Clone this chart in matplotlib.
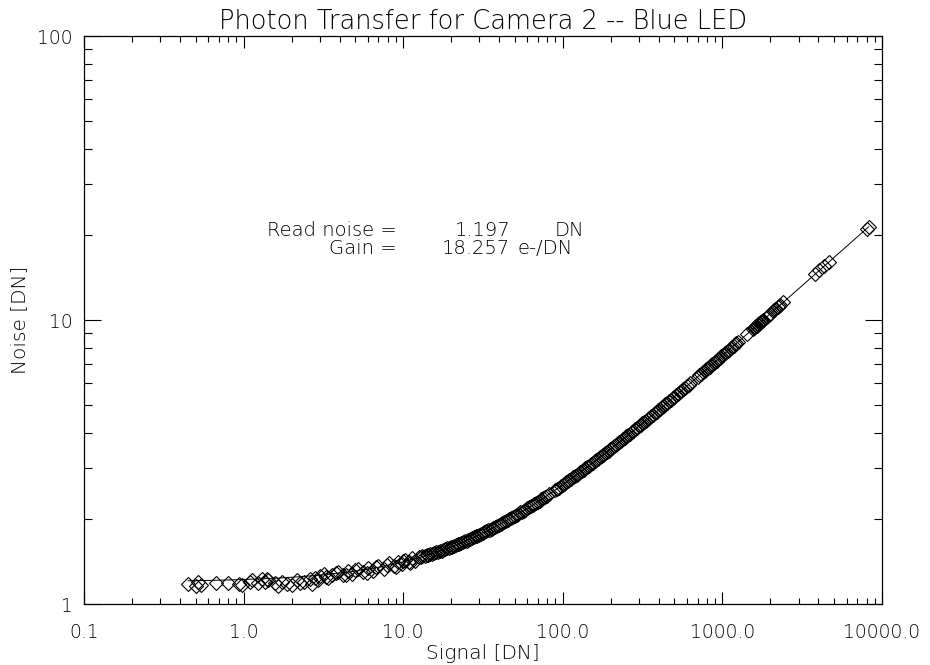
import numpy as np
import matplotlib
matplotlib.use("Agg")
import matplotlib.pyplot as plt
from matplotlib.ticker import FixedLocator, FixedFormatter, LogLocator, NullFormatter

# Thin strokes for all text
plt.rcParams["font.family"] = ["DejaVu Sans"]
plt.rcParams["font.weight"] = "light"
plt.rcParams["axes.titleweight"] = "light"
plt.rcParams["axes.labelweight"] = "light"

# Fit results printed on the plot
READ_NOISE = 1.197   # DN
GAIN = 18.257        # e-/DN

# Measured mean signal [DN] and noise [DN], first frame pair of each exposure
signal = [
    0.45, 0.52, 0.54, 0.67, 0.80, 0.93, 1.09, 1.13, 1.23, 1.30, 1.36,
    1.43, 1.57, 1.73, 1.86, 2.00, 2.15, 2.25, 2.61, 2.80, 2.93,
    3.0, 3.2, 3.4, 3.6, 3.9, 4.2, 4.5, 4.8, 5.2, 5.6, 6.0, 6.5, 7.0,
    7.6, 8.2, 8.8, 9.3, 9.8, 10.3, 10.8, 11.3, 11.8,
    12.5, 13.2, 14.0, 14.8, 15.6, 16.5, 17.4, 18.3, 19.3, 20.3, 21.4,
    22.5, 23.7, 25.0, 26.3, 27.7, 29.2, 30.7, 32.3, 34.0, 35.8, 37.7,
    39.7, 41.8, 44.0, 46.3, 48.7, 51.3, 54.0, 56.8, 59.8, 63.0, 66.3,
    69.8, 73.4, 77.3, 81.4, 90.0, 94.7, 99.7,
    105, 110, 116, 122, 128, 135, 142, 150, 158, 166, 175, 184, 194,
    204, 215, 226, 238, 250, 263, 277, 292, 307, 323, 340, 358, 377,
    397, 418, 440, 463, 487, 513, 540, 568, 598, 630, 700, 736, 775,
    815, 850, 880, 920, 960,
    1010, 1060, 1100, 1150, 1200, 1250, 1420, 1560, 1600, 1640, 1680,
    1720, 1760, 1800, 1900, 2000, 2075, 2150, 2230, 2310, 2400,
    3800, 4050, 4350, 4650, 8000, 8250,
]

noise = [
    1.18, 1.20, 1.17, 1.19, 1.19, 1.18, 1.20, 1.21, 1.19, 1.22, 1.20,
    1.21, 1.19, 1.20, 1.18, 1.17, 1.21, 1.19, 1.22, 1.23, 1.21,
    1.25, 1.28, 1.23, 1.27, 1.30, 1.26, 1.31, 1.28, 1.33, 1.30, 1.34,
    1.31, 1.36, 1.33, 1.39, 1.36, 1.41, 1.38, 1.43, 1.40, 1.45, 1.42,
    1.46, 1.47, 1.49, 1.50, 1.51, 1.53, 1.54, 1.56, 1.58, 1.59, 1.61,
    1.63, 1.65, 1.67, 1.70, 1.72, 1.74, 1.76, 1.79, 1.82, 1.84, 1.87,
    1.90, 1.93, 1.96, 1.99, 2.02, 2.06, 2.10, 2.13, 2.17, 2.21, 2.25,
    2.29, 2.34, 2.38, 2.43, 2.52, 2.57, 2.63,
    2.68, 2.73, 2.79, 2.85, 2.91, 2.97, 3.03, 3.11, 3.18, 3.24, 3.32,
    3.39, 3.47, 3.55, 3.63, 3.72, 3.80, 3.89, 3.98, 4.07, 4.17, 4.27,
    4.37, 4.48, 4.59, 4.70, 4.81, 4.93, 5.05, 5.18, 5.30, 5.43, 5.57,
    5.70, 5.85, 5.99, 6.31, 6.46, 6.62, 6.79, 6.93, 7.04, 7.20, 7.35,
    7.53, 7.71, 7.85, 8.03, 8.20, 8.36, 8.90, 9.32, 9.44, 9.55, 9.67,
    9.78, 9.89, 10.00, 10.27, 10.53, 10.73, 10.92, 11.12, 11.31, 11.53,
    14.48, 14.94, 15.48, 16.00, 20.97, 21.29,
]

# Second frame pair of each exposure
signal_b = [
    0.50, 0.98, 1.40, 1.65, 2.40, 2.70, 3.3, 3.8, 4.4, 5.0, 5.9, 6.8,
    7.9, 9.0, 10.0, 11.0,
    12.85, 13.6, 14.4, 15.2, 16.05, 16.95, 17.85, 18.8, 19.8, 20.85,
    21.95, 23.1, 24.35, 25.65, 27.0, 28.45, 29.95, 31.5, 33.15, 34.9,
    36.75, 38.7, 40.75, 42.9, 45.15, 47.5, 50.0, 52.65, 55.4, 58.3,
    61.4, 64.65, 68.05, 71.6, 75.35, 79.35, 92.3, 97.2,
    102.3, 107.5, 113, 119, 125, 131.5, 138.5, 146, 154, 162, 170.5,
    179.5, 189, 199, 209.5, 220.5, 232, 244, 256.5, 270, 284.5, 299.5,
    315, 331.5, 349, 367.5, 387, 407.5, 429, 451.5, 475, 500, 526.5,
    554, 583, 614, 718, 755.5, 795, 832.5, 865, 900, 940, 985,
    1035, 1080, 1125, 1175, 1225, 1580, 1620, 1660, 1700, 1740, 1780,
    1950, 2110, 2270,
]

noise_b = [
    1.16, 1.17, 1.22, 1.16, 1.20, 1.18, 1.24, 1.29, 1.27, 1.32, 1.29,
    1.35, 1.37, 1.35, 1.42, 1.39,
    1.462, 1.476, 1.490, 1.505, 1.521, 1.537, 1.553, 1.569, 1.587,
    1.605, 1.623, 1.643, 1.663, 1.685, 1.706, 1.730, 1.753, 1.777,
    1.802, 1.829, 1.856, 1.885, 1.914, 1.945, 1.976, 2.009, 2.042,
    2.078, 2.114, 2.151, 2.190, 2.230, 2.272, 2.314, 2.358, 2.404,
    2.547, 2.599,
    2.654, 2.706, 2.761, 2.820, 2.877, 2.938, 3.003, 3.071, 3.141,
    3.210, 3.282, 3.356, 3.433, 3.512, 3.593, 3.676, 3.761, 3.847,
    3.935, 4.028, 4.125, 4.224, 4.323, 4.426, 4.533, 4.643, 4.757,
    4.874, 4.993, 5.115, 5.239, 5.368, 5.502, 5.637, 5.776, 5.921,
    6.384, 6.543, 6.706, 6.858, 6.986, 7.122, 7.275, 7.442,
    7.624, 7.784, 7.940, 8.111, 8.278, 9.379, 9.495, 9.610, 9.723,
    9.835, 9.946, 10.404, 10.817, 11.215,
]

x_ticks = [0.1, 1.0, 10.0, 100.0, 1000.0, 10000.0]
x_tick_labels = ["0.1", "1.0", "10.0", "100.0", "1000.0", "10000.0"]
y_ticks = [1, 10, 100]
y_tick_labels = ["1", "10", "100"]

W, H = 930, 665
fig = plt.figure(figsize=(W / 100, H / 100), dpi=100)
ax = fig.add_axes([84 / W, 1 - 604 / H, (882 - 84) / W, (604 - 36) / H])

# Model curve: noise^2 = read_noise^2 + signal / gain
s_fit = np.logspace(np.log10(min(signal)), np.log10(max(signal)), 300)
n_fit = np.sqrt(READ_NOISE ** 2 + s_fit / GAIN)
ax.plot(s_fit, n_fit, color="black", linewidth=0.7, zorder=2)

diamond = dict(linestyle="none", marker="D", markersize=6.8,
               markerfacecolor="none", markeredgecolor="black",
               markeredgewidth=0.8, zorder=3)
ax.plot(signal, noise, **diamond)
ax.plot(signal_b, noise_b, **diamond)

ax.set_xscale("log")
ax.set_yscale("log")
ax.set_xlim(0.1, 10000.0)
ax.set_ylim(1, 100)

ax.xaxis.set_major_locator(FixedLocator(x_ticks))
ax.xaxis.set_major_formatter(FixedFormatter(x_tick_labels))
ax.yaxis.set_major_locator(FixedLocator(y_ticks))
ax.yaxis.set_major_formatter(FixedFormatter(y_tick_labels))
ax.xaxis.set_minor_locator(LogLocator(base=10, subs=np.arange(2, 10)))
ax.yaxis.set_minor_locator(LogLocator(base=10, subs=np.arange(2, 10)))
ax.xaxis.set_minor_formatter(NullFormatter())
ax.yaxis.set_minor_formatter(NullFormatter())

ax.tick_params(axis="both", which="both", direction="in",
               top=True, right=True, width=0.8, colors="black",
               labelsize=13.5)
ax.tick_params(axis="x", which="major", length=8.6, pad=14)
ax.tick_params(axis="x", which="minor", length=4.3)
ax.tick_params(axis="y", which="major", length=12, pad=8)
ax.tick_params(axis="y", which="minor", length=6)

for spine in ax.spines.values():
    spine.set_linewidth(0.9)

ax.set_xlabel("Signal [DN]", fontsize=14.5, labelpad=1)
ax.set_ylabel("Noise [DN]", fontsize=14.5, labelpad=6)
ax.set_title("Photon Transfer for Camera 2 -- Blue LED", fontsize=18.5, pad=5)

# Fit summary, laid out in columns like a fixed-width printout
def px(x, y):
    return ((x - 84) / (882 - 84), (604 - y) / (604 - 36))

txt = dict(transform=ax.transAxes, fontsize=14, va="center")
ax.text(*px(397, 230), "Read noise =", ha="right", **txt)
ax.text(*px(397, 249), "Gain =", ha="right", **txt)
ax.text(*px(510, 230), f"{READ_NOISE:.3f}", ha="right", **txt)
ax.text(*px(510, 249), f"{GAIN:.3f}", ha="right", **txt)
ax.text(*px(555, 230), "DN", ha="left", **txt)
ax.text(*px(517, 249), "e-/DN", ha="left", **txt)

fig.savefig("out.png", dpi=100)
